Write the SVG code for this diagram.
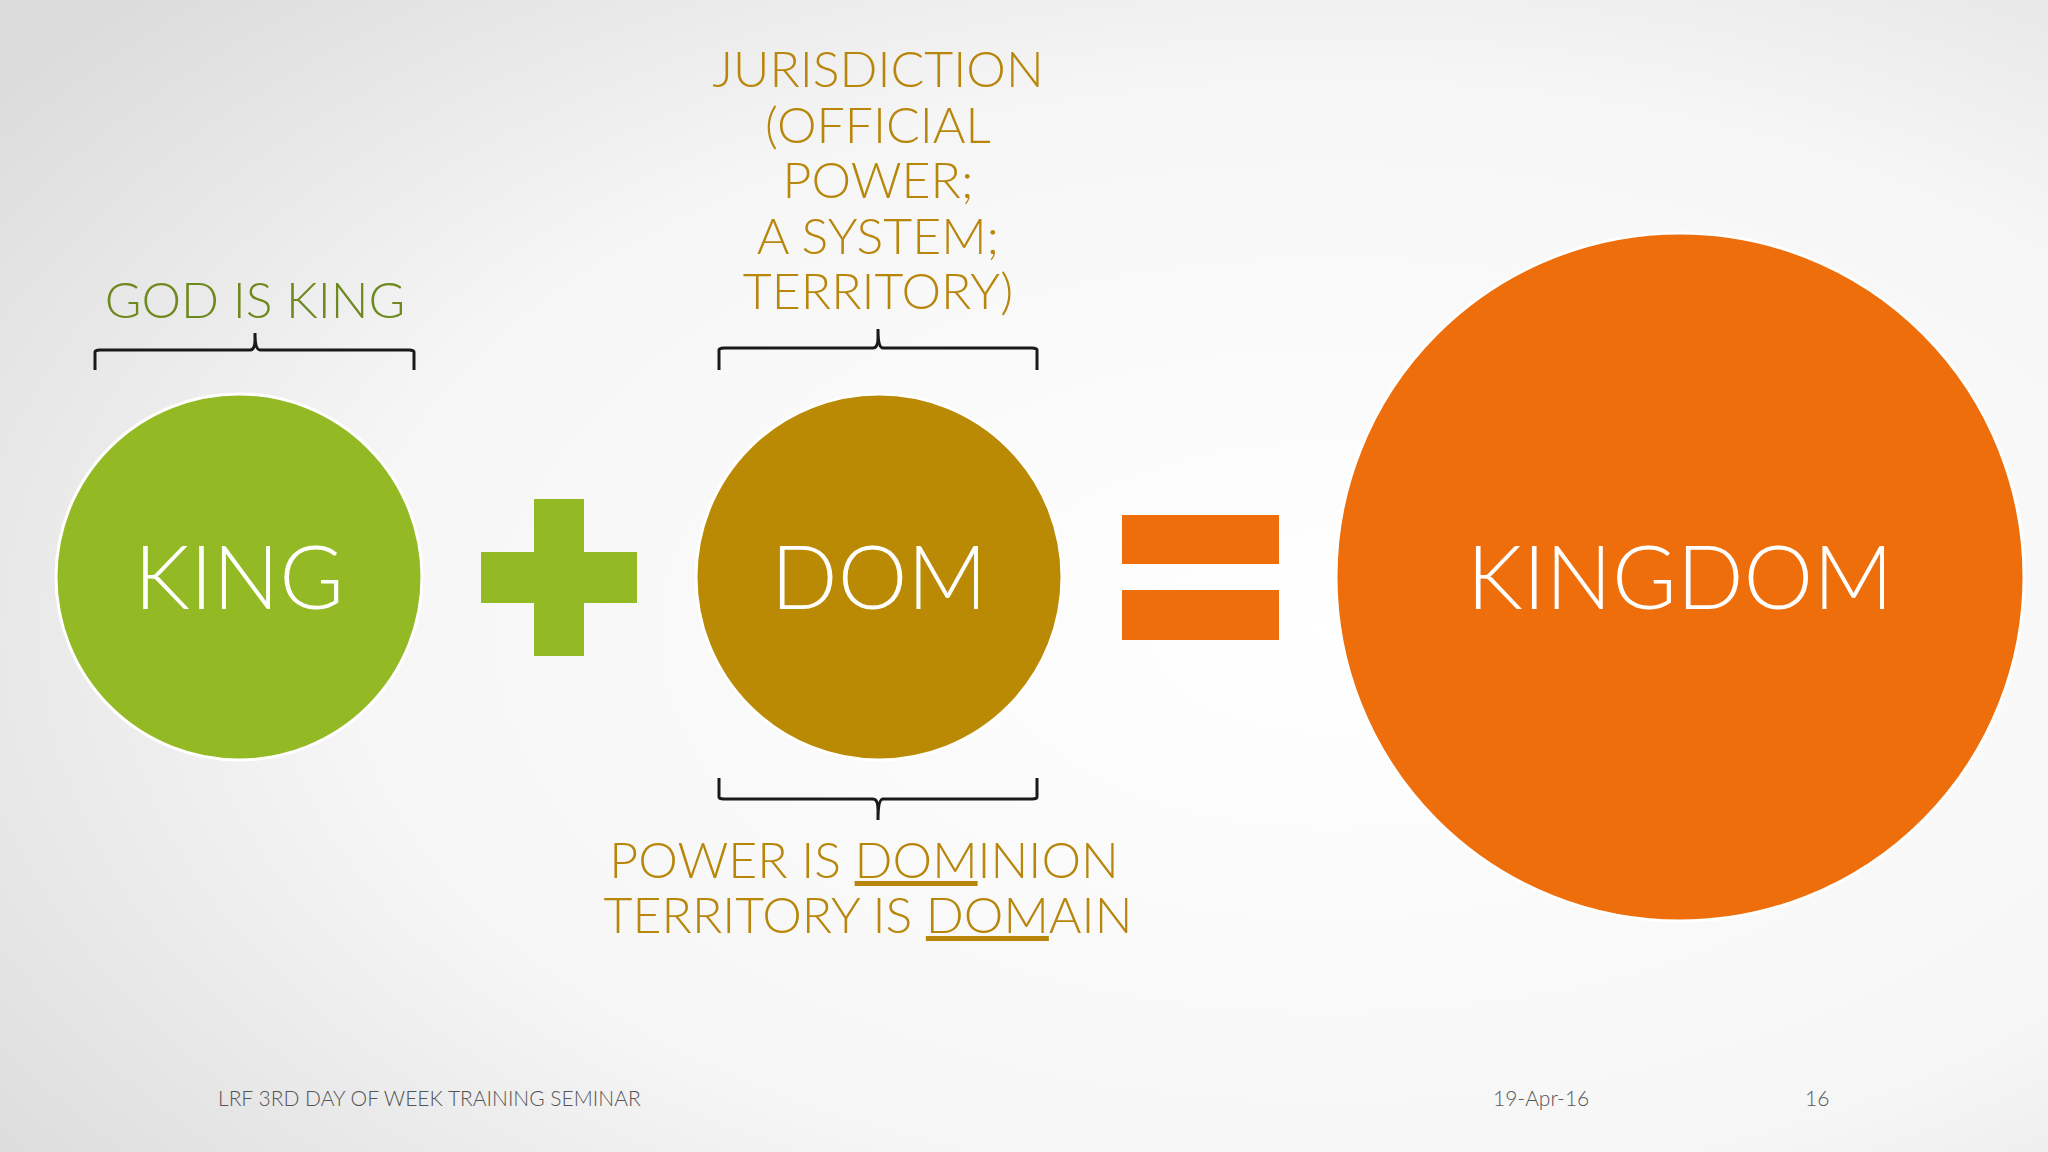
<svg xmlns="http://www.w3.org/2000/svg" width="2048" height="1152" viewBox="0 0 2048 1152">
<defs>
<radialGradient id="bg" cx="0.65" cy="0.55" r="0.8">
<stop offset="0" stop-color="#ffffff"/><stop offset="0.6" stop-color="#f6f6f6"/><stop offset="1" stop-color="#dcdcdc"/>
</radialGradient>
<style>
.t{font-family:Lato,"Liberation Sans",sans-serif;font-weight:300}
.big{font-size:88px;fill:#fff;text-anchor:middle}
.lab{font-size:50px;text-anchor:middle}
.br{fill:none;stroke:#1a1a1a;stroke-width:3}
.ft{font-size:21px;fill:#555}
</style>
</defs>
<rect width="2048" height="1152" fill="url(#bg)"/>
<g id="king"><circle cx="239" cy="577" r="183" fill="#93BA25" stroke="#fff" stroke-width="3"/><text class="t big" x="239" y="609">KING</text></g>
<g id="plus" fill="#93BA25"><rect x="534" y="499" width="50" height="157"/><rect x="481" y="552" width="156" height="51"/></g>
<g id="dom"><circle cx="879" cy="577" r="183" fill="#BB8A04" stroke="#fff" stroke-width="3"/><text class="t big" x="879" y="609">DOM</text></g>
<g id="equals" fill="#EE6E0B"><rect x="1122" y="515" width="157" height="49"/><rect x="1122" y="590" width="157" height="50"/></g>
<g id="kingdom"><circle cx="1680" cy="577" r="344" fill="#EE6E0B" stroke="#fff" stroke-width="3"/><text class="t big" x="1680" y="609">KINGDOM</text></g>
<g id="connectors">
<path class="br" d="M95 370 V352 Q95 350 100 350 H250 Q255 350 255 340 V333 Q255 350 260 350 H409 Q414 350 414 352 V370"/>
<path class="br" d="M719 370 V350 Q719 348 724 348 H873 Q878 348 878 338 V329 Q878 348 883 348 H1032 Q1037 348 1037 350 V370"/>
<path class="br" d="M719 778 V797 Q719 799 724 799 H873 Q878 799 878 809 V820 Q878 799 883 799 H1032 Q1037 799 1037 797 V778"/>
</g>
<g id="labels">
<text class="t lab" x="255" y="318" fill="#6E8A1F">GOD IS KING</text>
<text class="t lab" fill="#B8860B"><tspan x="878" y="87">JURISDICTION</tspan><tspan x="878" y="143">(OFFICIAL</tspan><tspan x="878" y="198">POWER;</tspan><tspan x="878" y="254">A SYSTEM;</tspan><tspan x="878" y="309">TERRITORY)</tspan></text>
<text class="t lab" fill="#B8860B"><tspan x="864" y="878">POWER IS <tspan text-decoration="underline">DOM</tspan>INION</tspan><tspan x="868" y="933">TERRITORY IS <tspan text-decoration="underline">DOM</tspan>AIN</tspan></text>
</g>
<g id="footer">
<text class="t ft" x="218" y="1106">LRF 3RD DAY OF WEEK TRAINING SEMINAR</text>
<text class="t ft" x="1493" y="1106">19-Apr-16</text>
<text class="t ft" x="1805" y="1106">16</text>
</g>
</svg>
